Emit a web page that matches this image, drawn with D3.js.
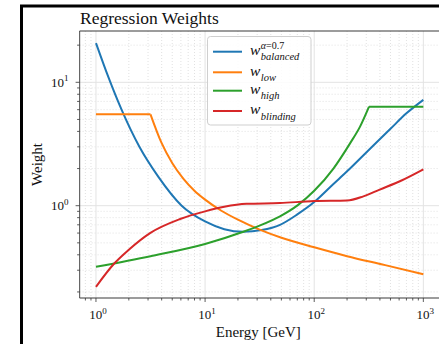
<!DOCTYPE html>
<html><head><meta charset="utf-8">
<script src="https://cdn.jsdelivr.net/npm/d3@7"></script>
<style>html,body{margin:0;padding:0;background:#fff;overflow:hidden}</style>
</head><body>
<svg id="chart" width="439" height="344"></svg>
<script>
// ---- data ----
const balancedE = [1, 1.3, 1.72, 2.5, 3.72, 6.1, 10, 15, 22.4, 33, 48.6, 70, 100, 150, 200, 300, 500, 700, 1000];
const balancedW = [20.8, 11.0, 5.97, 3.0, 1.72, 1.0, 0.745, 0.645, 0.615, 0.635, 0.70, 0.85, 1.07, 1.5, 1.9, 2.7, 4.2, 5.6, 7.2];
const lowE = [1, 3.16, 3.98, 5.01, 6.31, 7.94, 10, 14.1, 20, 31.6, 50.1, 100, 200, 447, 1000];
const lowW = [5.5, 5.5, 3.24, 2.21, 1.66, 1.33, 1.12, 0.91, 0.77, 0.64, 0.55, 0.46, 0.39, 0.33, 0.278];
const highE = [1, 3.16, 10, 22.4, 31.6, 48.6, 70.8, 100, 150, 213, 263, 318, 1000];
const highW = [0.32, 0.39, 0.49, 0.615, 0.69, 0.82, 1.01, 1.32, 2.0, 3.2, 4.37, 6.35, 6.35];
const blindE = [1, 1.47, 2, 3.13, 5.9, 10, 15, 24, 48.6, 100, 200, 282, 398, 631, 1000];
const blindW = [0.22, 0.34, 0.44, 0.60, 0.78, 0.90, 0.98, 1.035, 1.05, 1.09, 1.10, 1.19, 1.35, 1.60, 1.97];
const seriesNames = ["balanced", "low", "high", "blinding"];
const seriesSup = ["α=0.7", "", "", ""];
const seriesColors = ["#1f77b4", "#ff7f0e", "#2ca02c", "#d62728"];
const cornerEnergies = [[], [3.16], [318], []];  // sharp kinks in the curves
const xMajorTicks = [1, 10, 100, 1000];
const yMajorTicks = [1, 10];
const titleText = "Regression Weights";
const xLabel = "Energy [GeV]";
const yLabel = "Weight";

// ---- layout ----
const FONT = "'Liberation Serif', 'DejaVu Serif', serif";
const svg = d3.select("#chart");
const L = 79.6, R = 439.7, T = 31, B = 298;
const x = d3.scaleLog().domain([Math.pow(10, -0.15), Math.pow(10, 3.15)]).range([L, R]);
const y = d3.scaleLog().domain([Math.pow(10, -0.748), Math.pow(10, 1.4157)]).range([B, T]);

// figure frame
svg.append("rect").attr("x", 21.5).attr("y", 6).attr("width", 440).attr("height", 400)
  .attr("fill", "#fff").attr("stroke", "#000").attr("stroke-width", 3);

function minors(scale) {
  const [a, b] = scale.domain();
  const out = [];
  for (let e = Math.floor(Math.log10(a)); e <= Math.ceil(Math.log10(b)); e++) {
    for (let m = 2; m <= 9; m++) {
      const v = m * Math.pow(10, e);
      if (v >= a && v <= b) out.push(v);
    }
  }
  return out;
}
const xMinor = minors(x), yMinor = minors(y);

const clipId = "clipArea";
svg.append("clipPath").attr("id", clipId).append("rect")
  .attr("x", L).attr("y", T).attr("width", R - L).attr("height", B - T);

const grid = svg.append("g").attr("clip-path", `url(#${clipId})`);
grid.selectAll(".xgm").data(xMinor).join("line")
  .attr("x1", d => x(d)).attr("x2", d => x(d)).attr("y1", T).attr("y2", B)
  .attr("stroke", "#d9d9d9").attr("stroke-width", 0.8).attr("stroke-dasharray", "1,2");
grid.selectAll(".ygm").data(yMinor).join("line")
  .attr("y1", d => y(d)).attr("y2", d => y(d)).attr("x1", L).attr("x2", R)
  .attr("stroke", "#d9d9d9").attr("stroke-width", 0.8).attr("stroke-dasharray", "1,2");
grid.selectAll(".xg").data(xMajorTicks).join("line")
  .attr("x1", d => x(d)).attr("x2", d => x(d)).attr("y1", T).attr("y2", B)
  .attr("stroke", "#e3e3e3").attr("stroke-width", 1);
grid.selectAll(".yg").data(yMajorTicks).join("line")
  .attr("y1", d => y(d)).attr("y2", d => y(d)).attr("x1", L).attr("x2", R)
  .attr("stroke", "#e3e3e3").attr("stroke-width", 1);

// series
const energies = [balancedE, lowE, highE, blindE];
const weights = [balancedW, lowW, highW, blindW];
const lineGen = d3.line().x(d => x(d[0])).y(d => y(d[1])).curve(d3.curveMonotoneX);
const plot = svg.append("g").attr("clip-path", `url(#${clipId})`);
energies.forEach((E, i) => {
  const pts = E.map((e, j) => [e, weights[i][j]]);
  const segs = [];
  let cur = [];
  pts.forEach(p => {
    cur.push(p);
    if (cornerEnergies[i].includes(p[0])) { segs.push(cur); cur = [p]; }
  });
  if (cur.length > 1) segs.push(cur);
  segs.forEach(s => {
    plot.append("path").attr("d", lineGen(s)).attr("fill", "none")
      .attr("stroke", seriesColors[i]).attr("stroke-width", 2)
      .attr("stroke-linejoin", "round").attr("stroke-linecap", "butt");
  });
});

// spines
const spineColor = "#3a3a3a";
svg.append("line").attr("x1", L).attr("x2", L).attr("y1", T).attr("y2", B).attr("stroke", "#666").attr("stroke-width", 1.2);
svg.append("line").attr("x1", L).attr("x2", R).attr("y1", B).attr("y2", B).attr("stroke", spineColor).attr("stroke-width", 1.2);
svg.append("line").attr("x1", L).attr("x2", R).attr("y1", T).attr("y2", T).attr("stroke", spineColor).attr("stroke-width", 1.2);
svg.append("line").attr("x1", R).attr("x2", R).attr("y1", T).attr("y2", B).attr("stroke", spineColor).attr("stroke-width", 1.2);

// ticks
const tickG = svg.append("g").attr("stroke", "#333").attr("stroke-width", 0.8);
tickG.selectAll(".xt").data(xMajorTicks).join("line")
  .attr("x1", d => x(d)).attr("x2", d => x(d)).attr("y1", B).attr("y2", B + 4);
tickG.selectAll(".xtm").data(xMinor).join("line")
  .attr("x1", d => x(d)).attr("x2", d => x(d)).attr("y1", B).attr("y2", B + 2.5);
tickG.selectAll(".yt").data(yMajorTicks).join("line")
  .attr("y1", d => y(d)).attr("y2", d => y(d)).attr("x1", L).attr("x2", L - 4);
tickG.selectAll(".ytm").data(yMinor).join("line")
  .attr("y1", d => y(d)).attr("y2", d => y(d)).attr("x1", L).attr("x2", L - 2.5);

function powLabel(g, v, px, py, anchor) {
  const t = g.append("text").attr("x", px).attr("y", py).attr("text-anchor", anchor)
    .attr("font-family", FONT).attr("font-size", 13).attr("fill", "#111");
  t.append("tspan").text("10");
  t.append("tspan").attr("dy", -5.5).attr("font-size", 9).text(String(Math.round(Math.log10(v))));
}
const lab = svg.append("g");
xMajorTicks.forEach(v => powLabel(lab, v, x(v) + 2, B + 21, "middle"));
yMajorTicks.forEach(v => powLabel(lab, v, L - 11, y(v) + 4.5, "end"));

// axis titles
svg.append("text").attr("x", (L + 437) / 2).attr("y", 337).attr("text-anchor", "middle")
  .attr("font-family", FONT).attr("font-size", 15).attr("fill", "#111").text(xLabel);
svg.append("text").attr("transform", `translate(41.5,${(T + B) / 2}) rotate(-90)`)
  .attr("text-anchor", "middle").attr("font-family", FONT).attr("font-size", 15).attr("fill", "#111").text(yLabel);
svg.append("text").attr("x", 80).attr("y", 23.5).attr("font-family", FONT)
  .attr("font-size", 17.5).attr("fill", "#111").text(titleText);

// legend
const lg = svg.append("g");
lg.append("rect").attr("x", 207.5).attr("y", 36.5).attr("width", 103.5).attr("height", 88.5)
  .attr("rx", 3).attr("fill", "#fff").attr("fill-opacity", 0.85).attr("stroke", "#cfcfcf").attr("stroke-width", 1);
const rowY = [51.7, 72.3, 90.7, 111];
const probe = lg.append("text").attr("font-family", FONT).attr("font-style", "italic").attr("font-size", 15.5).text("w");
const wWidth = probe.node().getComputedTextLength();
probe.remove();
seriesNames.forEach((name, i) => {
  const yy = rowY[i];
  lg.append("line").attr("x1", 213).attr("x2", 242).attr("y1", yy).attr("y2", yy)
    .attr("stroke", seriesColors[i]).attr("stroke-width", 2);
  const wx = 250 + wWidth + 0.5;
  const t = lg.append("text").attr("x", 250).attr("y", yy + 3.3).attr("font-family", FONT)
    .attr("fill", "#111");
  t.append("tspan").attr("font-style", "italic").attr("font-size", 15.5).text("w");
  if (seriesSup[i]) {
    t.append("tspan").attr("x", wx).attr("y", yy - 3).attr("font-size", 10)
      .attr("font-style", "italic").text(seriesSup[i].slice(0, 1));
    t.append("tspan").attr("font-size", 10).text(seriesSup[i].slice(1));
  }
  t.append("tspan").attr("x", wx).attr("y", yy + 8.5).attr("font-size", 10.5)
    .attr("font-style", "italic").text(name);
});
</script>
</body></html>
